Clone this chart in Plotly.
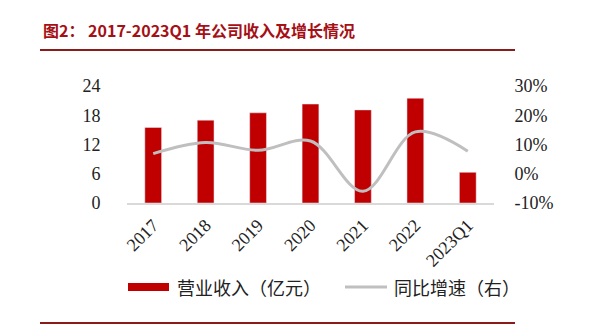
import plotly.graph_objects as go

categories = ["2017", "2018", "2019", "2020", "2021", "2022", "2023Q1"]
revenue = [15.5, 17.0, 18.5, 20.3, 19.1, 21.5, 6.3]
growth = [6.9, 10.7, 8.0, 11.2, -6.0, 14.3, 7.7]
left_ticks = [0, 6, 12, 18, 24]
right_ticks = [-10, 0, 10, 20, 30]
right_ticktext = ["-10%", "0%", "10%", "20%", "30%"]

W, H = 600, 330
L, R, T, B = 127, 106, 86, 127
pw, ph = W - L - R, H - T - B

def px(x):
    return (x - L) / pw

def py(y):
    return (H - B - y) / ph

RED = "#c00000"
GRAY = "#bfbfbf"
DARK = "#8b1a1a"
serif = "Liberation Serif, Times New Roman, serif"
cjk = "Noto Sans CJK SC, sans-serif"

fig = go.Figure()
fig.add_trace(go.Bar(x=categories, y=revenue, marker_color=RED, width=0.32,
                     name="营业收入（亿元）", showlegend=False))
fig.add_trace(go.Scatter(x=categories, y=growth, yaxis="y2", mode="lines",
                         line=dict(color=GRAY, width=3, shape="spline", smoothing=1.0),
                         name="同比增速（右）", showlegend=False))

shapes = [
    dict(type="line", xref="paper", yref="paper", x0=px(40), x1=px(515), y0=py(50), y1=py(50),
         line=dict(color=DARK, width=2)),
    dict(type="line", xref="paper", yref="paper", x0=px(40), x1=px(515), y0=py(323), y1=py(323),
         line=dict(color=DARK, width=2)),
    dict(type="rect", xref="paper", yref="paper", x0=px(128), x1=px(169), y0=py(291), y1=py(283),
         fillcolor=RED, line=dict(width=0)),
    dict(type="line", xref="paper", yref="paper", x0=px(345), x1=px(387), y0=py(287), y1=py(287),
         line=dict(color=GRAY, width=3)),
]
annotations = [
    dict(text="<b>图2： 2017-2023Q1 年公司收入及增长情况</b>", xref="paper", yref="paper",
         x=px(41), y=py(30), xanchor="left", yanchor="middle", showarrow=False,
         font=dict(family=cjk, size=16, color="#a50f15")),
    dict(text="营业收入（亿元）", xref="paper", yref="paper", x=px(175), y=py(287),
         xanchor="left", yanchor="middle", showarrow=False,
         font=dict(family=cjk, size=18, color="#222222")),
    dict(text="同比增速（右）", xref="paper", yref="paper", x=px(392), y=py(287),
         xanchor="left", yanchor="middle", showarrow=False,
         font=dict(family=cjk, size=18, color="#222222")),
]

fig.update_layout(
    width=W, height=H, margin=dict(l=L, r=R, t=T, b=B),
    paper_bgcolor="white", plot_bgcolor="white",
    xaxis=dict(type="category", showgrid=False, showline=True, linecolor="#d9d9d9", linewidth=1.5,
               tickangle=-45, tickfont=dict(family=serif, size=18, color="#222222"),
               ticks="outside", ticklen=3, tickcolor="rgba(0,0,0,0)"),
    yaxis=dict(range=[0, 24], tickvals=left_ticks, showgrid=False, zeroline=False,
               tickfont=dict(family=serif, size=18, color="#222222"),
               ticks="outside", ticklen=22, tickcolor="rgba(0,0,0,0)"),
    yaxis2=dict(range=[-10, 30], tickvals=right_ticks, ticktext=right_ticktext, overlaying="y",
                side="right", showgrid=False, zeroline=False,
                tickfont=dict(family=serif, size=18, color="#222222"),
                ticks="outside", ticklen=16, tickcolor="rgba(0,0,0,0)"),
    shapes=shapes, annotations=annotations,
)

fig.write_html("out.html")
